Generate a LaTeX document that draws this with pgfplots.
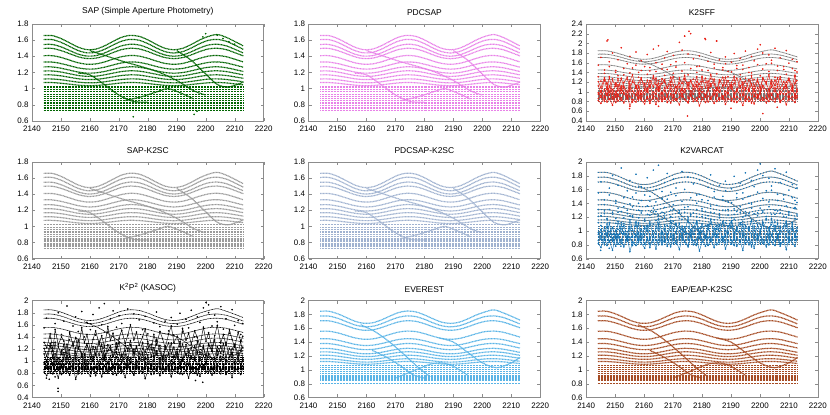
\documentclass[border=0pt]{standalone}
\usepackage{fontspec}
\setmainfont{Liberation Sans}
\usepackage{pgfplots}
\pgfplotsset{compat=1.18}
\usepackage{pgfplotstable}

\definecolor{cSAP}{RGB}{0,100,0}
\definecolor{cPDC}{RGB}{232,130,232}
\definecolor{cSFF}{RGB}{232,30,20}
\definecolor{cSK2}{RGB}{155,155,155}
\definecolor{cPK2}{RGB}{160,178,208}
\definecolor{cVAR}{RGB}{20,115,180}
\definecolor{cKAS}{RGB}{0,0,0}
\definecolor{cEVE}{RGB}{90,180,230}
\definecolor{cEAP}{RGB}{165,75,35}
\definecolor{cGRY}{RGB}{120,120,120}

\pgfplotstableread{
x A1 A2 A3 A4 A5 A6 A7 A8 A9 A10 A11
2144 1.656 1.606 1.546 1.497 1.407 1.328 1.268 1.218 1.169 1.119 1.074
2147 1.656 1.606 1.546 1.497 1.407 1.328 1.268 1.218 1.169 1.119 1.074
2150 1.620 1.573 1.517 1.471 1.386 1.310 1.252 1.205 1.157 1.109 1.066
2153 1.566 1.521 1.471 1.432 1.352 1.283 1.228 1.183 1.139 1.094 1.054
2156 1.512 1.470 1.426 1.393 1.319 1.256 1.204 1.162 1.121 1.079 1.042
2159 1.482 1.442 1.402 1.371 1.301 1.241 1.191 1.151 1.111 1.071 1.035
2162 1.488 1.448 1.407 1.376 1.305 1.244 1.194 1.153 1.113 1.072 1.037
2165 1.528 1.485 1.440 1.404 1.329 1.264 1.211 1.169 1.126 1.083 1.046
2168 1.584 1.539 1.487 1.445 1.364 1.292 1.236 1.191 1.145 1.099 1.058
2171 1.636 1.587 1.530 1.483 1.395 1.318 1.259 1.211 1.162 1.113 1.070
2174 1.659 1.609 1.549 1.499 1.410 1.330 1.270 1.220 1.170 1.120 1.075
2177 1.647 1.598 1.540 1.491 1.402 1.324 1.264 1.215 1.166 1.117 1.072
2180 1.603 1.557 1.503 1.459 1.375 1.302 1.245 1.198 1.151 1.104 1.062
2183 1.546 1.502 1.455 1.417 1.340 1.273 1.219 1.176 1.132 1.088 1.050
2186 1.498 1.457 1.415 1.383 1.311 1.249 1.198 1.157 1.116 1.075 1.039
2189 1.480 1.440 1.400 1.370 1.300 1.240 1.190 1.150 1.110 1.070 1.035
2192 1.498 1.457 1.415 1.383 1.311 1.249 1.198 1.157 1.116 1.075 1.039
2195 1.546 1.502 1.455 1.417 1.340 1.273 1.219 1.176 1.132 1.088 1.050
2198 1.603 1.557 1.503 1.459 1.375 1.302 1.245 1.198 1.151 1.104 1.062
2201 1.647 1.598 1.540 1.491 1.402 1.324 1.264 1.215 1.166 1.117 1.072
2204 1.669 1.609 1.549 1.499 1.410 1.330 1.270 1.220 1.170 1.120 1.075
2207 1.636 1.587 1.530 1.483 1.395 1.318 1.259 1.211 1.162 1.113 1.070
2210 1.584 1.539 1.487 1.445 1.364 1.292 1.236 1.191 1.145 1.099 1.058
2213 1.528 1.485 1.440 1.404 1.329 1.264 1.211 1.169 1.126 1.083 1.046
}\famA

\pgfplotstableread{
x B1 B2 B3 B4 B5 B6 B7 B8 B9 B10 B11
2144 1.846 1.776 1.707 1.557 1.448 1.378 1.308 1.258 1.209 1.159 1.119
2147 1.846 1.776 1.707 1.557 1.448 1.378 1.308 1.258 1.209 1.159 1.119
2150 1.810 1.745 1.679 1.534 1.428 1.360 1.292 1.245 1.197 1.149 1.111
2153 1.756 1.696 1.637 1.497 1.398 1.333 1.268 1.223 1.179 1.134 1.099
2156 1.702 1.648 1.595 1.461 1.368 1.306 1.244 1.202 1.161 1.119 1.087
2159 1.672 1.622 1.571 1.441 1.351 1.291 1.231 1.191 1.151 1.111 1.080
2162 1.678 1.627 1.576 1.445 1.355 1.294 1.234 1.193 1.153 1.112 1.082
2165 1.718 1.662 1.607 1.472 1.377 1.314 1.251 1.209 1.166 1.123 1.091
2168 1.774 1.713 1.651 1.510 1.408 1.342 1.276 1.231 1.185 1.139 1.103
2171 1.826 1.758 1.691 1.544 1.437 1.368 1.299 1.251 1.202 1.153 1.115
2174 1.849 1.779 1.709 1.559 1.450 1.380 1.310 1.260 1.210 1.160 1.120
2177 1.837 1.769 1.700 1.552 1.443 1.374 1.304 1.255 1.206 1.157 1.117
2180 1.793 1.730 1.666 1.522 1.419 1.352 1.285 1.238 1.191 1.144 1.107
2183 1.736 1.678 1.621 1.484 1.387 1.323 1.259 1.216 1.172 1.128 1.095
2186 1.688 1.636 1.584 1.452 1.360 1.299 1.238 1.197 1.156 1.115 1.084
2189 1.670 1.620 1.570 1.440 1.350 1.290 1.230 1.190 1.150 1.110 1.080
2192 1.688 1.636 1.584 1.452 1.360 1.299 1.238 1.197 1.156 1.115 1.084
2195 1.736 1.678 1.621 1.484 1.387 1.323 1.259 1.216 1.172 1.128 1.095
2198 1.793 1.730 1.666 1.522 1.419 1.352 1.285 1.238 1.191 1.144 1.107
2201 1.837 1.769 1.700 1.552 1.443 1.374 1.304 1.255 1.206 1.157 1.117
2204 1.866 1.779 1.709 1.559 1.450 1.380 1.310 1.260 1.210 1.160 1.120
2207 1.826 1.758 1.691 1.544 1.437 1.368 1.299 1.251 1.202 1.153 1.115
2210 1.774 1.713 1.651 1.510 1.408 1.342 1.276 1.231 1.185 1.139 1.103
2213 1.718 1.662 1.607 1.472 1.377 1.314 1.251 1.209 1.166 1.123 1.091
}\famB

\pgfplotstableread{
x a b c d e f g h
2144.2 0.82 0.95 1.12 1.31 1.55 0.98 1.21 0.86
2145.1 0.76 1.02 0.98 1.22 1.71 0.88 1.08 0.93
2146.3 0.91 0.88 1.25 1.45 1.38 1.05 1.29 0.80
2147.2 0.79 1.10 1.05 1.18 2.05 0.93 1.16 0.97
2148.0 0.86 0.93 1.31 1.52 1.62 1.12 0.99 0.84
2149.1 0.72 1.05 0.95 1.27 1.80 0.85 1.24 0.90
2150.2 0.95 0.89 1.18 1.40 1.44 1.01 1.11 0.78
2151.0 0.81 1.14 1.02 1.33 1.66 0.90 1.27 0.95
2152.1 0.88 0.97 1.28 1.12 1.91 1.09 1.03 0.82
2153.0 0.77 1.08 1.11 1.48 1.35 0.96 1.19 0.99
2154.2 0.92 0.91 0.99 1.25 1.58 0.87 1.30 0.85
2155.1 0.70 1.16 1.22 1.39 1.73 1.04 1.06 0.91
2156.0 0.84 1.01 1.35 1.20 1.49 0.91 1.22 0.79
2157.2 0.79 0.94 1.07 1.55 1.82 1.13 1.12 0.94
2158.1 0.97 1.12 1.19 1.30 1.40 0.86 0.98 0.83
2159.0 0.83 0.87 1.29 1.44 1.64 1.02 1.26 0.96
2160.2 0.75 1.06 1.03 1.17 1.52 0.94 1.14 0.81
2161.1 0.90 0.99 1.24 1.36 1.77 1.08 1.01 0.88
2162.0 0.81 1.13 1.10 1.50 1.43 0.89 1.23 0.76
2163.2 0.87 0.92 1.33 1.28 1.88 1.00 1.10 0.92
2164.1 0.74 1.04 1.15 1.42 1.60 0.95 1.28 0.87
2165.0 0.93 1.18 1.01 1.23 1.95 1.10 1.04 0.80
2166.2 0.80 0.96 1.27 1.57 1.47 0.84 1.17 0.98
2167.1 0.89 1.09 1.20 1.34 1.70 1.03 1.25 0.85
2168.0 0.78 0.90 1.08 1.46 1.83 0.92 1.07 0.90
2169.2 0.96 1.15 1.30 1.21 1.56 1.07 1.20 0.77
2170.1 0.82 1.00 1.14 1.38 1.75 0.88 1.31 0.94
2171.0 0.86 1.11 0.97 1.51 1.62 0.99 1.09 0.82
2172.2 0.73 0.94 1.26 1.29 2.02 1.11 1.18 0.89
2173.1 0.91 1.07 1.17 1.43 1.86 0.90 1.02 0.97
2174.0 0.85 0.98 1.34 1.60 2.15 1.06 1.27 0.84
2175.2 0.77 1.19 1.06 1.35 1.78 0.87 1.13 0.79
2176.1 0.94 0.93 1.23 1.48 2.20 1.02 1.24 0.93
2177.0 0.80 1.05 1.12 1.26 1.68 0.95 1.05 0.86
2178.2 0.88 1.14 1.31 1.40 1.52 1.12 1.21 0.81
2179.1 0.71 0.97 1.04 1.53 1.74 0.89 1.15 0.96
2180.0 0.84 1.10 1.21 1.32 1.45 1.00 1.29 0.88
2181.2 0.92 0.89 1.28 1.19 2.08 0.93 1.08 0.78
2182.1 0.79 1.02 1.09 1.44 1.63 1.08 1.22 0.91
2183.0 0.87 1.17 1.36 1.27 1.81 0.86 1.11 0.85
2184.2 0.76 0.95 1.16 1.49 1.57 1.04 1.26 0.95
2185.1 0.95 1.08 1.02 1.37 2.05 0.91 1.03 0.80
2186.0 0.83 0.99 1.25 1.22 1.66 1.09 1.19 0.87
2187.2 0.89 1.13 1.13 1.45 1.50 0.85 1.30 0.92
2188.1 0.74 0.92 1.30 1.58 1.72 1.01 1.12 0.83
2189.0 0.86 1.06 1.07 1.31 1.42 0.97 1.23 0.98
2190.2 0.81 1.15 1.19 1.41 1.61 1.13 1.06 0.86
2191.1 0.93 0.97 1.32 1.24 1.79 0.88 1.17 0.79
2192.0 0.78 1.03 1.00 1.54 1.48 1.05 1.28 0.90
2193.2 0.85 1.12 1.27 1.35 1.69 0.92 1.10 0.84
2194.1 0.72 0.94 1.14 1.46 1.55 1.10 1.20 0.94
2195.0 0.90 1.08 1.22 1.28 1.84 0.87 1.04 0.81
2196.2 0.80 1.01 1.05 1.50 1.40 1.03 1.25 0.89
2197.1 0.87 1.16 1.33 1.39 1.73 0.94 1.14 0.77
2198.0 0.75 0.90 1.11 1.25 1.64 1.07 1.01 0.93
2199.2 0.94 1.09 1.26 1.56 1.88 0.89 1.22 0.86
2200.1 0.82 0.96 1.03 1.33 1.97 0.99 1.09 0.97
2201.0 0.88 1.13 1.29 1.47 1.80 1.12 1.27 0.82
2202.2 0.77 1.04 1.18 1.21 1.58 0.86 1.16 0.88
2203.1 0.91 0.93 1.35 1.42 1.76 1.04 1.05 0.80
2204.0 0.84 1.18 1.09 1.59 1.65 0.93 1.24 0.95
2205.2 0.79 1.00 1.24 1.30 1.90 1.08 1.13 0.85
2206.1 0.95 1.11 1.15 1.44 1.53 0.90 1.29 0.91
2207.0 0.81 0.95 1.31 1.26 1.70 1.01 1.07 0.78
2208.2 0.86 1.07 1.06 1.52 1.46 0.95 1.21 0.87
2209.1 0.73 1.14 1.20 1.36 1.85 1.11 1.11 0.96
2210.0 0.90 0.98 1.28 1.23 1.59 0.88 1.26 0.83
2211.2 0.83 1.10 1.12 1.48 1.67 1.06 1.02 0.90
2212.1 0.78 0.92 1.34 1.32 1.44 0.91 1.18 0.86
2212.8 0.88 1.05 1.01 1.41 1.62 1.00 1.23 0.92
}\cloud

\pgfplotsset{
  panel/.style={scale only axis, width=232bp, height=97bp,
    xmin=2140, xmax=2220, xtick={2140,2150,...,2220},
    axis line style={black!45}, tick style={black!45},
    major tick length=3bp, tick align=inside,
    ticklabel style={font=\fontsize{8}{9}\selectfont},
    xticklabel style={yshift=-1.5bp},
    /pgf/number format/assume math mode=true,
    /pgf/number format/1000 sep={},
    yticklabel style={/pgf/number format/fixed},
    title style={font=\fontsize{8.5}{9}\selectfont, yshift=-1bp},
    anchor=north west, clip=true},
  ysmall/.style={ymin=0.6, ymax=1.8, ytick={0.6,0.8,...,1.81}},
  ybig/.style={ymin=0.6, ymax=2, ytick={0.6,0.8,...,2.01}},
  crv/.style={line width=1.2bp, dash pattern=on 1bp off 0.5bp, smooth},
  flt/.style={line width=1.2bp, dash pattern=on 1bp off 0.5bp},
  cld/.style={only marks, mark=*, mark size=0.6bp},
  zig/.style={line width=0.45bp, mark=*, mark size=0.55bp},
}

\newcommand{\drawA}[1]{%
  \pgfplotsinvokeforeach{1,...,11}{\addplot[crv,#1] table[x=x,y=A##1]{\famA};}%
  \pgfplotsinvokeforeach{1.02,0.99,0.96,0.93,0.90,0.875,0.85,0.83,0.81,0.79,0.77,0.75,0.73}{\addplot[flt,#1] coordinates {(2144,##1) (2213,##1)};}%
  \addplot[crv,#1] coordinates {(2156,1.19) (2160,1.17) (2165,1.05) (2170,0.92) (2175,0.84) (2180,0.83)};
  \addplot[crv,#1] coordinates {(2160,1.47) (2166,1.40) (2172,1.33) (2178,1.27) (2184,1.20) (2190,1.10) (2196,0.97) (2200,0.92)};
  \addplot[crv,#1] coordinates {(2172,0.85) (2178,0.90) (2184,0.97) (2187,1.00) (2191,0.95) (2196,0.87)};
  \addplot[crv,#1] coordinates {(2190,1.47) (2195,1.35) (2200,1.18) (2204,1.05) (2208,1.02) (2213,1.08)};
}
\newcommand{\drawB}[1]{%
  \pgfplotsinvokeforeach{1,...,11}{\addplot[crv,#1] table[x=x,y=B##1]{\famB};}%
  \pgfplotsinvokeforeach{1.065,1.03,1.0,0.97,0.945,0.92,0.90,0.88,0.86,0.84,0.80}{\addplot[flt,#1] coordinates {(2144,##1) (2213,##1)};}%
  \addplot[crv,#1] coordinates {(2158,1.65) (2163,1.55) (2168,1.40) (2173,1.22) (2178,1.03) (2182,0.90)};
  \addplot[crv,#1] coordinates {(2162,1.28) (2167,1.18) (2172,1.05) (2176,0.93) (2180,0.88)};
  \addplot[crv,#1] coordinates {(2170,0.88) (2176,0.98) (2182,1.08) (2186,1.10) (2190,1.05) (2195,0.92)};
  \addplot[crv,#1] coordinates {(2185,1.46) (2190,1.40) (2195,1.25) (2200,1.10) (2205,1.03) (2210,1.10) (2213,1.18)};
}
\newcommand{\drawZig}[2]{%
  \pgfplotsinvokeforeach{#2}{\addplot[zig,#1] table[x=x,y=##1]{\cloud};}%
}
\newcommand{\drawCloud}[2]{%
  \pgfplotsinvokeforeach{#2}{\addplot[cld,#1] table[x=x,y=##1]{\cloud};}%
}

\begin{document}
\begin{tikzpicture}
% Row 1
\begin{axis}[panel, ysmall, at={(32bp,-24bp)}, title={SAP (Simple Aperture Photometry)}]
\drawA{cSAP}
\addplot[cld,cSAP] coordinates {(2175,0.65) (2196,0.68) (2197,0.72) (2200,1.68) (2204,1.66) (2206,1.62) (2208,1.58) (2210,1.55) (2199,1.64)};
\end{axis}

\begin{axis}[panel, ysmall, at={(309bp,-24bp)}, title={PDCSAP}]
\drawA{cPDC}
\end{axis}

\begin{axis}[panel, ymin=0.4, ymax=2.4, ytick={0.4,0.6,...,2.41}, at={(587bp,-24bp)}, title={K2SFF}]
\drawB{cGRY, line width=0.8bp}
\drawZig{cSFF}{a,f,h,b,g,c}
\drawCloud{cSFF}{d,e}
\addplot[cld,cSFF] coordinates {(2147.5,2.07) (2174,2.15) (2175.5,2.25) (2175,0.5) (2181,2.1) (2185,2.05) (2201,0.55) (2155,0.65) (2165,0.7) (2190,0.66) (2206,0.68)};
\end{axis}

% Row 2
\begin{axis}[panel, ysmall, at={(32bp,-162bp)}, title={SAP-K2SC}]
\drawA{cSK2}
\end{axis}

\begin{axis}[panel, ysmall, at={(309bp,-162bp)}, title={PDCSAP-K2SC}]
\drawA{cPK2}
\end{axis}

\begin{axis}[panel, ybig, at={(587bp,-162bp)}, title={K2VARCAT}]
\drawB{cGRY, line width=0.8bp}
\drawB{cVAR, line width=1bp, dash pattern=on 1bp off 2bp}
\drawZig{cVAR}{a,f,h,b}
\drawCloud{cVAR}{c,g,d,e}
\addplot[cld,cVAR] coordinates {(2145,0.72) (2148,0.75) (2152,0.78) (2178,0.79)};
\end{axis}

% Row 3
\begin{axis}[panel, ymin=0.4, ymax=2, ytick={0.4,0.6,...,2.01}, at={(32bp,-301bp)}, title={K\textsuperscript{2}P\textsuperscript{2} (KASOC)}]
\drawB{cKAS, line width=0.6bp}
\drawZig{cKAS}{a,f,h,b,g,c,d}
\drawCloud{cKAS}{e}
\addplot[cld,cKAS] coordinates {(2149,0.5) (2149,0.55) (2196.5,0.68) (2199,0.65) (2201,1.93) (2145,0.72) (2146,0.70) (2148,0.74)};
\end{axis}

\begin{axis}[panel, ybig, at={(309bp,-301bp)}, title={EVEREST}]
\drawB{cEVE}
\end{axis}

\begin{axis}[panel, ybig, at={(587bp,-301bp)}, title={EAP/EAP-K2SC}]
\drawB{cEAP}
\end{axis}
\path (0,0) rectangle (830bp,-415bp);
\end{tikzpicture}
\end{document}
